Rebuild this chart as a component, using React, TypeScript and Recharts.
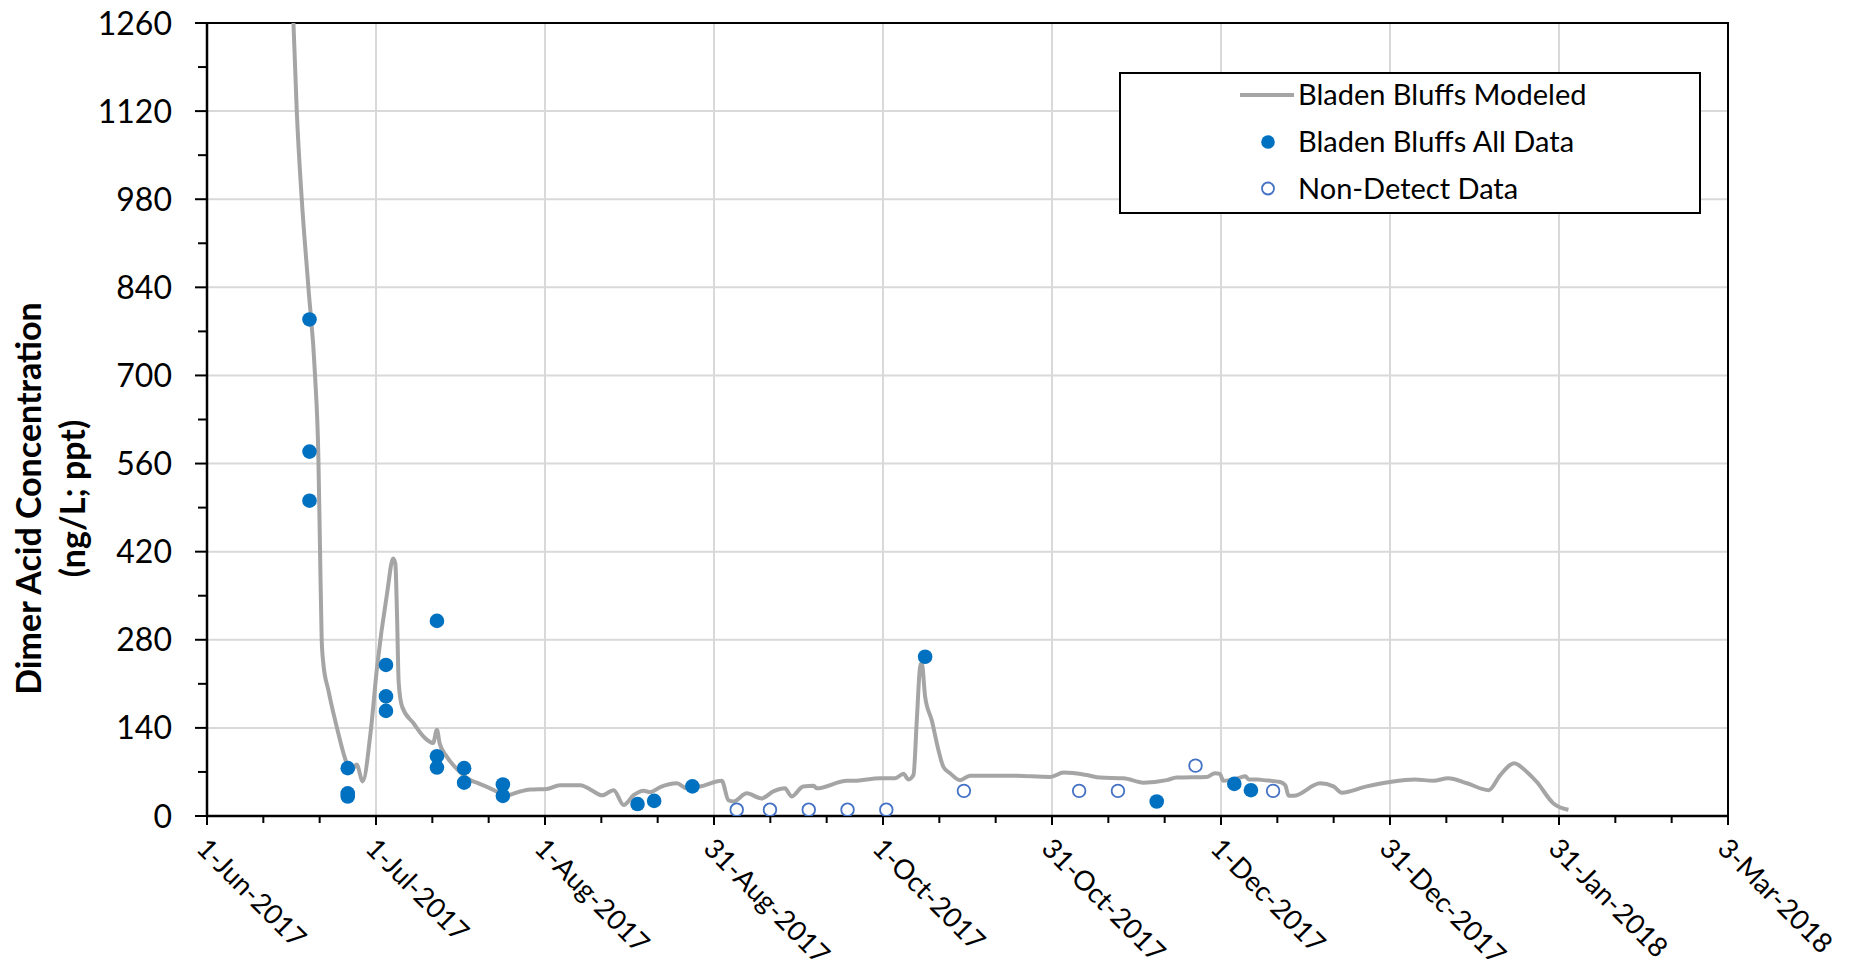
import {
  CartesianGrid,
  ComposedChart,
  Label,
  Legend,
  Line,
  ReferenceArea,
  Scatter,
  XAxis,
  YAxis,
} from 'recharts';

// x values are days after 1-Jun-2017
const modeledDays = [
  15.3, 15.6, 16.2, 17.1, 18.3, 19.5, 20.1, 20.4, 20.7, 21.0, 21.9, 23.4, 25.0,
  25.9, 27.0, 28.1, 29.5, 30.7, 32.5, 33.6, 34.0, 34.3, 34.6, 35.2, 37.3, 39.1,
  40.8, 41.5, 42.0, 43.3, 45.4, 47.5, 48.7, 51.1, 54.1, 56.5, 58.3, 61.3, 63.7,
  67.4, 69.2, 71.3, 73.4, 75.2, 77.0, 78.8, 80.0, 81.8, 84.8, 86.6, 89.0, 92.9,
  94.1, 95.0, 97.4, 100.1, 102.2, 104.3, 105.5, 107.6, 109.5, 110.0, 115.5,
  116.7, 121.5, 124.2, 125.7, 126.6, 127.5, 128.1, 128.7, 129.0, 129.6, 130.8,
  132.0, 132.9, 134.1, 135.9, 137.7, 145.5, 152.2, 154.6, 158.8, 161.2, 165.4,
  169.0, 173.2, 175.0, 180.4, 181.9, 182.8, 183.4, 184.6, 186.1, 187.4, 188.0,
  189.5, 190.7, 193.7, 194.6, 195.2, 196.1, 200.9, 203.3, 204.8, 209.3, 213.5,
  218.0, 221.3, 224.0, 227.4, 231.3, 233.4, 235.9, 238.2, 240.0, 243.0, 245.7,
];
const modeledValues = [
  1310, 1260, 1120, 980, 840, 700, 570, 422, 280, 242, 200, 142, 89,
  70, 82, 55, 131, 237, 354, 409, 400, 317, 211, 174, 147, 126,
  116, 137, 115, 94, 72, 57, 53, 44, 33, 39, 42, 43, 49,
  49, 42, 33, 41, 17.5, 33, 40, 38, 46, 52, 44, 47, 56,
  25, 23, 36, 28, 39, 44, 31, 47, 48, 44, 56,
  56, 60, 60, 67, 58, 65, 152, 237, 243, 190, 152,
  105, 78, 68, 57, 64, 64, 62, 69, 65, 61, 60,
  53, 57, 61, 62, 68, 67, 56, 57, 60, 63, 58,
  58, 57, 54, 49, 32, 32, 52, 47, 37, 47, 54,
  58, 56, 60, 52, 41, 65, 84, 70, 54, 20, 10,
];

const allDataDays = [
  18.5, 18.5, 18.5, 25.4, 25.4, 25.4, 32.3, 32.3, 32.3, 41.5, 41.5, 41.5, 46.4,
  46.4, 53.4, 53.4, 77.7, 80.7, 87.6, 129.6, 171.4, 185.4, 188.4,
];
const allDataValues = [
  789, 579, 501, 76, 36, 31, 240, 190, 167, 310, 95, 77, 76,
  53, 50, 32, 19, 24, 47, 253, 23, 51, 41,
];

const nonDetectDays = [95.6, 101.6, 108.6, 115.6, 122.6, 136.6, 157.4, 164.4, 178.4, 192.4];
const nonDetectValues = [10, 10, 10, 10, 10, 40, 40, 40, 80, 40];

const xTickLabels = [
  '1-Jun-2017',
  '1-Jul-2017',
  '1-Aug-2017',
  '31-Aug-2017',
  '1-Oct-2017',
  '31-Oct-2017',
  '1-Dec-2017',
  '31-Dec-2017',
  '31-Jan-2018',
  '3-Mar-2018',
];
const xMajorStep = 30.5;
const xMinorStep = xMajorStep / 3;
const xMax = xMajorStep * (xTickLabels.length - 1);
const xMajorTicks = xTickLabels.map((_, i) => i * xMajorStep);
const xAllTicks = Array.from({ length: (xTickLabels.length - 1) * 3 + 1 }, (_, i) => i * xMinorStep);

const yMajorTicks = [0, 140, 280, 420, 560, 700, 840, 980, 1120, 1260];
const yMax = 1260;
const yAllTicks = Array.from({ length: yMajorTicks.length * 2 - 1 }, (_, i) => i * 70);

const modeled = modeledDays.map((x, i) => ({ x, y: modeledValues[i] }));
const allData = allDataDays.map((x, i) => ({ x, y: allDataValues[i] }));
const nonDetect = nonDetectDays.map((x, i) => ({ x, y: nonDetectValues[i] }));

const FONT = 'Lato, "Open Sans", sans-serif';
const LINE_GREY = '#a5a5a5';
const DOT_BLUE = '#0070c0';
const OPEN_BLUE = '#4472c4';

const XTick = ({ x, y, payload }: any) => {
  const k = Math.round(payload.value / xMinorStep);
  const major = k % 3 === 0;
  return (
    <g>
      <line x1={x} y1={y} x2={x} y2={y + (major ? 9 : 7)} stroke='#000' strokeWidth={2} />
      {major && (
        <text
          transform={`translate(${x - 12},${y + 34}) rotate(45)`}
          fontSize={27.5}
          fontFamily={FONT}
          fill='#000'
        >
          {xTickLabels[k / 3]}
        </text>
      )}
    </g>
  );
};

const YTick = ({ x, y, payload }: any) => {
  const major = payload.value % 140 === 0;
  return (
    <g>
      <line x1={x - (major ? 12 : 9)} y1={y} x2={x} y2={y} stroke='#000' strokeWidth={2} />
      {major && (
        <text x={x - 35} y={y + 11.5} textAnchor='end' fontSize={32} fontFamily={FONT} fill='#000'>
          {payload.value}
        </text>
      )}
    </g>
  );
};

const AxisTitle = ({ viewBox }: any) => {
  const cy = viewBox.y + viewBox.height / 2 + 79;
  return (
    <g fontFamily={FONT} fill='#000' textAnchor='middle' fontSize={34} fontWeight={700}>
      <text transform={`translate(${viewBox.x + 34},${cy}) rotate(-90)`}>Dimer Acid Concentration</text>
      <text transform={`translate(${viewBox.x + 78},${cy}) rotate(-90)`}>(ng/L; ppt)</text>
    </g>
  );
};

const LegendBox = () => (
  <svg width={582} height={142} style={{ display: 'block' }}>
    <rect x={1} y={1} width={580} height={140} fill='#fff' stroke='#000' strokeWidth={2} />
    <g fontFamily={FONT} fontSize={29} fill='#000'>
      <line x1={121} y1={23} x2={175} y2={23} stroke={LINE_GREY} strokeWidth={4} />
      <text x={179} y={33}>Bladen Bluffs Modeled</text>
      <circle cx={149} cy={70} r={6.8} fill={DOT_BLUE} />
      <text x={179} y={80}>Bladen Bluffs All Data</text>
      <circle cx={149} cy={116.5} r={6} fill='#fff' stroke={OPEN_BLUE} strokeWidth={1.8} />
      <text x={179} y={126.5}>Non-Detect Data</text>
    </g>
  </svg>
);

const FilledDot = (p: any) => <circle cx={p.cx} cy={p.cy} r={7.3} fill={DOT_BLUE} />;
const OpenDot = (p: any) => (
  <circle cx={p.cx} cy={p.cy} r={6.3} fill='#fff' stroke={OPEN_BLUE} strokeWidth={1.8} />
);

export default function App() {
  return (
    <div style={{ position: 'absolute', left: 0, top: 0, fontFamily: FONT, background: '#fff' }}>
      <ComposedChart width={1866} height={970} margin={{ top: 23, right: 138, left: 7, bottom: 0 }}>
        <CartesianGrid
          verticalValues={xMajorTicks}
          horizontalValues={yMajorTicks}
          stroke='#d9d9d9'
          strokeWidth={2}
        />
        <XAxis
          type='number'
          dataKey='x'
          domain={[0, xMax]}
          ticks={xAllTicks}
          interval={0}
          allowDataOverflow
          height={154}
          tickSize={0}
          tickMargin={0}
          tickLine={false}
          axisLine={{ stroke: '#000', strokeWidth: 2.5 }}
          tick={<XTick />}
        />
        <YAxis
          type='number'
          dataKey='y'
          domain={[0, yMax]}
          ticks={yAllTicks}
          interval={0}
          allowDataOverflow
          width={200}
          tickSize={0}
          tickMargin={0}
          tickLine={false}
          axisLine={{ stroke: '#000', strokeWidth: 2.5 }}
          tick={<YTick />}
        >
          <Label content={<AxisTitle />} />
        </YAxis>
        <ReferenceArea
          x1={0}
          x2={xMax}
          y1={0}
          y2={yMax}
          fill='none'
          stroke='#000'
          strokeWidth={2}
          ifOverflow='visible'
        />
        <Legend
          layout='horizontal'
          align='center'
          verticalAlign='middle'
          content={<LegendBox />}
          wrapperStyle={{ left: 1119, top: 72, width: 582, height: 142 }}
        />
        <Line
          data={modeled}
          dataKey='y'
          type='monotone'
          stroke={LINE_GREY}
          strokeWidth={4}
          dot={false}
          activeDot={false}
          isAnimationActive={false}
          name='Bladen Bluffs Modeled'
        />
        <Scatter
          data={allData}
          dataKey='y'
          shape={<FilledDot />}
          isAnimationActive={false}
          name='Bladen Bluffs All Data'
        />
        <Scatter
          data={nonDetect}
          dataKey='y'
          shape={<OpenDot />}
          isAnimationActive={false}
          name='Non-Detect Data'
        />
      </ComposedChart>
    </div>
  );
}
